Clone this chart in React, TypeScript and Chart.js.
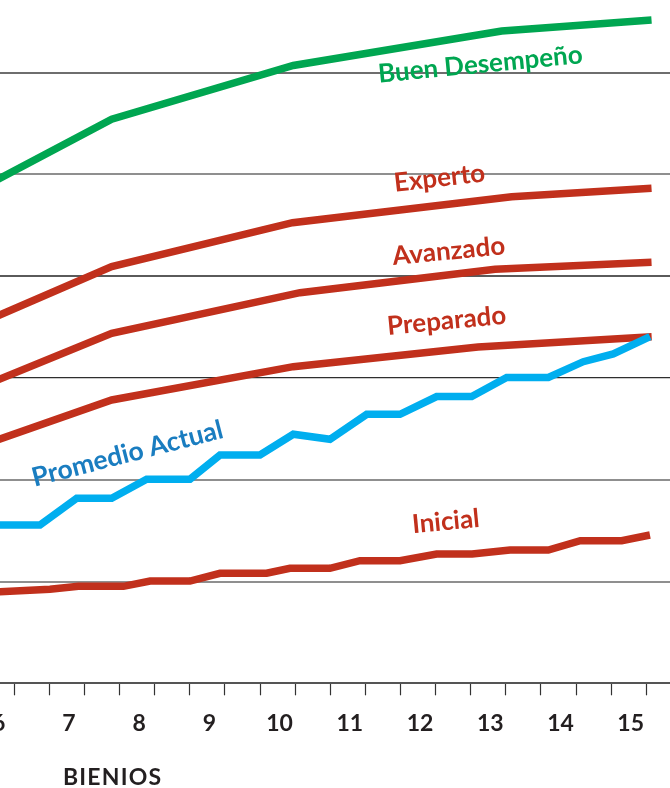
import React, { useEffect, useRef } from "react";
import { Chart, registerables } from "chart.js";

Chart.register(...registerables);

// Bienio labels on the x axis (marks sit half a year either side of each label)
const bienioLabels = [6, 7, 8, 9, 10, 11, 12, 13, 14, 15];
// Horizontal reference lines
const gridValues = [0, 100, 200, 300, 400, 500, 600];

// Series (x = bienio position, y = value)
const promedioX = [5.75, 6.616, 7.139, 7.637, 8.135, 8.752, 9.179, 9.749, 10.223, 10.746, 11.269, 11.743, 12.265, 12.764, 13.262, 13.855, 14.353, 14.78, 15.303];
const promedioY = [155.5, 155.5, 181.8, 181.8, 200.5, 200.5, 224.3, 224.3, 244.7, 239.8, 264.3, 264.3, 281.8, 281.8, 300.5, 300.5, 316.0, 323.6, 340.6];

const inicialX = [5.75, 6.757, 7.163, 7.804, 8.184, 8.752, 9.179, 9.843, 10.175, 10.745, 11.172, 11.743, 12.265, 12.77, 13.31, 13.855, 14.31, 14.9, 15.303];
const inicialY = [89.0, 92.4, 95.3, 95.3, 100.5, 100.5, 108.1, 108.1, 113.0, 113.0, 120.5, 120.5, 127.0, 127.0, 131.0, 131.0, 140.1, 140.1, 145.7];

const preparadoX = [5.75, 7.637, 10.223, 12.853, 15.327];
const preparadoY = [232.9, 278.4, 311.1, 330.5, 340.6];

const avanzadoX = [5.75, 7.637, 10.319, 13.096, 15.325];
const avanzadoY = [290.7, 343.9, 383.8, 406.8, 413.7];

const expertoX = [5.75, 7.637, 10.212, 13.333, 15.325];
const expertoY = [353.1, 409.4, 452.6, 478.1, 486.4];

const buenX = [5.75, 7.637, 10.223, 13.191, 15.325];
const buenY = [485.4, 554.2, 607.1, 641.0, 651.8];

// In-chart series labels (anchor at left baseline, in data units)
const labelTexts = ["Buen Desempeño", "Experto", "Avanzado", "Preparado", "Promedio Actual", "Inicial"];
const labelX = [11.444, 11.672, 11.647, 11.572, 6.538, 11.928];
const labelY = [590.2, 483.1, 411.0, 342.2, 193.2, 147.4];
const labelAngle = [5.5, 6.5, 5.5, 5.5, 14.5, 5.5];
const labelSize = [26, 26, 26, 26, 26.5, 26];

const GREEN = "#00a651";
const RED = "#c1301c";
const BLUE = "#00aeef";
const BLUE_TEXT = "#1a7dc0";
const labelColors = [GREEN, RED, RED, RED, BLUE_TEXT, RED];

const FONT = "Lato, 'Open Sans', sans-serif";

const toPoints = (xs: number[], ys: number[]) => xs.map((x, i) => ({ x, y: ys[i] }));

const xTickValues = Array.from(
  new Set(bienioLabels.flatMap((l) => [l - 0.25, l, l + 0.25]))
).sort((a, b) => a - b);

const isMark = (v: number) => Math.abs(((v * 4) % 2) - 1) < 1e-6;

const gridColor = (v: number) => {
  if (v === 0) return "rgba(0,0,0,0)";
  if (v === 300) return "#2e2e2e";
  if (v === 400) return "#5a5a5a";
  if (v === 600) return "#6e6e6e";
  return "#8f8f8f";
};

const annotationPlugin = {
  id: "seriesLabels",
  afterDatasetsDraw(chart: any) {
    const { ctx } = chart;
    const xs = chart.scales.x;
    const ys = chart.scales.y;
    ctx.save();
    ctx.textAlign = "left";
    ctx.textBaseline = "alphabetic";
    labelTexts.forEach((t, i) => {
      const px = xs.getPixelForValue(labelX[i]);
      const py = ys.getPixelForValue(labelY[i]);
      ctx.save();
      ctx.font = `bold ${labelSize[i]}px ${FONT}`;
      ctx.translate(px, py);
      ctx.rotate((-labelAngle[i] * Math.PI) / 180);
      ctx.fillStyle = labelColors[i];
      ctx.fillText(t, 0, 0);
      ctx.restore();
    });
    ctx.restore();
  },
  afterDraw(chart: any) {
    const { ctx } = chart;
    const xs = chart.scales.x;
    ctx.save();
    ctx.font = `bold 23px ${FONT}`;
    ctx.fillStyle = "#231f20";
    ctx.textAlign = "left";
    ctx.textBaseline = "alphabetic";
    try {
      (ctx as any).letterSpacing = "1.2px";
    } catch (e) {}
    ctx.fillText("BIENIOS", xs.left + 63, xs.bottom - 3);
    ctx.restore();
  },
};

export default function App() {
  const ref = useRef<HTMLCanvasElement | null>(null);

  useEffect(() => {
    if (!ref.current) return;
    const line = (data: any[], color: string) => ({
      data,
      borderColor: color,
      backgroundColor: color,
      borderWidth: 7.5,
      pointRadius: 0,
      tension: 0,
      fill: false,
      borderCapStyle: "butt" as const,
      borderJoinStyle: "miter" as const,
    });
    const chart = new Chart(ref.current, {
      type: "line",
      data: {
        datasets: [
          { label: "Promedio Actual", ...line(toPoints(promedioX, promedioY), BLUE) },
          { label: "Inicial", ...line(toPoints(inicialX, inicialY), RED) },
          { label: "Preparado", ...line(toPoints(preparadoX, preparadoY), RED) },
          { label: "Avanzado", ...line(toPoints(avanzadoX, avanzadoY), RED) },
          { label: "Experto", ...line(toPoints(expertoX, expertoY), RED) },
          { label: "Buen Desempeño", ...line(toPoints(buenX, buenY), GREEN) },
        ],
      },
      options: {
        responsive: false,
        maintainAspectRatio: false,
        animation: false,
        layout: { padding: 0, autoPadding: false } as any,
        plugins: {
          legend: { display: false },
          tooltip: { enabled: false },
          title: { display: false },
        },
        scales: {
          x: {
            type: "linear",
            min: 6.0464,
            max: 15.588,
            afterBuildTicks: (s: any) => {
              s.ticks = xTickValues.map((v) => ({ value: v }));
            },
            afterFit: (s: any) => {
              s.height = 104.7;
              s.paddingLeft = 0;
              s.paddingRight = 0;
              s.paddingTop = 0;
              s.paddingBottom = 0;
            },
            ticks: {
              autoSkip: false,
              maxRotation: 0,
              minRotation: 0,
              padding: 14,
              labelOffset: 2,
              color: "#231f20",
              font: { family: FONT, weight: "bold", size: 23 },
              callback: (v: any) => (Number.isInteger(Number(v)) ? String(v) : ""),
            },
            grid: {
              drawOnChartArea: false,
              drawTicks: true,
              tickLength: 12,
              tickWidth: 1.2,
              tickColor: (c: any) => (c.tick && isMark(c.tick.value) ? "#333333" : "rgba(0,0,0,0)"),
            },
            border: { display: true, color: "#555555", width: 2 },
          },
          y: {
            type: "linear",
            min: 0,
            max: 671.4,
            afterBuildTicks: (s: any) => {
              s.ticks = gridValues.map((v) => ({ value: v }));
            },
            afterFit: (s: any) => {
              s.width = 0;
              s.paddingLeft = 0;
              s.paddingRight = 0;
              s.paddingTop = 0;
              s.paddingBottom = 0;
            },
            ticks: { display: false },
            grid: {
              drawTicks: false,
              color: (c: any) => gridColor(c.tick ? c.tick.value : -1),
              lineWidth: (c: any) => (c.tick && c.tick.value === 300 ? 1.3 : 2),
            },
            border: { display: false },
          },
        },
      },
      plugins: [annotationPlugin],
    } as any);

    const fonts: any = (document as any).fonts;
    if (fonts && fonts.load) {
      Promise.all([fonts.load(`bold 26px Lato`), fonts.load(`bold 23px Lato`)])
        .then(() => chart.update())
        .catch(() => {});
    }
    return () => chart.destroy();
  }, []);

  return (
    <div style={{ position: "fixed", left: 0, top: 0, width: 670, height: 788, overflow: "hidden", background: "#fff" }}>
      <canvas ref={ref} width={670} height={788} style={{ display: "block", width: 670, height: 788 }} />
    </div>
  );
}
